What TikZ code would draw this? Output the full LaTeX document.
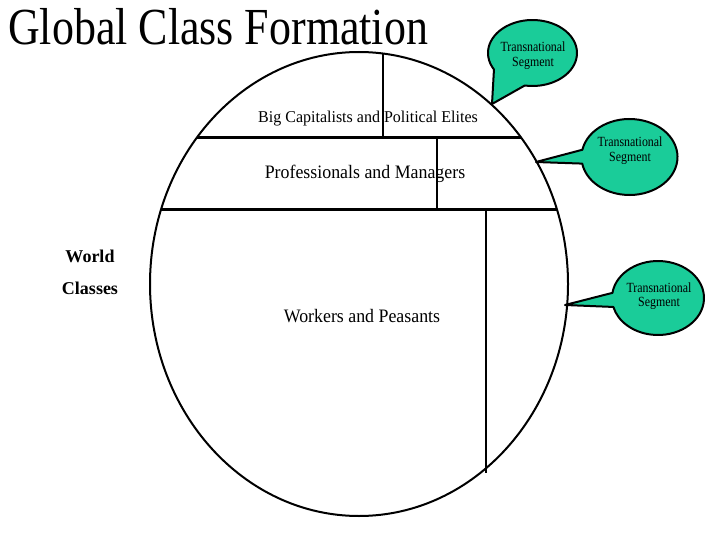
\documentclass[tikz,border=0pt]{standalone}
\usepackage{graphicx}
\usepackage{fontspec}
\setmainfont{Liberation Serif}
\definecolor{calloutgreen}{RGB}{26,204,153}
\newcommand\narrowtxt[2]{\scalebox{#1}[1]{#2}}
\begin{document}
\begin{tikzpicture}[x=1pt,y=-1pt,
  rim/.style={line width=2pt},
  band/.style={line width=3pt},
  divider/.style={line width=2pt},
  bubble/.style={fill=calloutgreen, draw=black, line width=2pt, line join=round},
  bubbletext/.style={font=\fontsize{14}{16}\selectfont, anchor=base, inner sep=0pt},
  lbl/.style={inner sep=0pt, anchor=base}]
\useasboundingbox (0,0) rectangle (720,540);
\fill[white] (0,0) rectangle (720,540);
% title
\node[anchor=base west, font=\fontsize{52}{56}\selectfont, inner sep=0pt] (title) at (8,45) {\narrowtxt{0.845}{Global Class Formation}};
% world circle
\coordinate (c) at (359,284);
\draw[rim] (c) ellipse [x radius=209, y radius=232];
% bands
\coordinate (b1l) at (196.6,138); \coordinate (b1r) at (521.4,138);
\coordinate (b2l) at (160.9,210); \coordinate (b2r) at (557.1,210);
\draw[band] (b1l) -- (b1r);
\draw[band] (b2l) -- (b2r);
% labels
\node[lbl, font=\fontsize{16.5}{18}\selectfont] (big) at (368,123) {\narrowtxt{0.97}{Big Capitalists and Political Elites}};
\node[lbl, font=\fontsize{19}{20}\selectfont] (prof) at (365,179) {\narrowtxt{0.94}{Professionals and Managers}};
\node[lbl, font=\fontsize{19}{20}\selectfont] (work) at (362,322) {\narrowtxt{0.94}{Workers and Peasants}};
\node[lbl, font=\bfseries\fontsize{18}{20}\selectfont] (world) at (90,262) {World};
\node[lbl, font=\bfseries\fontsize{18}{20}\selectfont] (classes) at (90,294) {Classes};
% dividers
\coordinate (v1t) at (383,53.5); \coordinate (v1b) at (383,138);
\coordinate (v2t) at (437,138); \coordinate (v2b) at (437,210);
\coordinate (v3t) at (486,210); \coordinate (v3b) at (486,473);
\draw[divider] (v1t) -- (v1b);
\draw[divider] (v2t) -- (v2b);
\draw[divider] (v3t) -- (v3b);
% callouts
\coordinate (k1) at (532.5,53);
\coordinate (t1) at (492,104);
\draw[bubble] (k1) ++(150:44.5 and 33) arc[start angle=150, end angle=460, x radius=44.5, y radius=33] -- (t1) -- cycle;
\node[bubbletext] (s1a) at (533,52) {\narrowtxt{0.85}{Transnational}};
\node[bubbletext] (s1b) at (533,66.5) {\narrowtxt{0.85}{Segment}};
\coordinate (k2) at (629.5,157);
\coordinate (t2) at (536,162);
\draw[bubble] (k2) ++(191:48 and 38) arc[start angle=191, end angle=530, x radius=48, y radius=38] -- (t2) -- cycle;
\node[bubbletext] (s2a) at (630,147) {\narrowtxt{0.85}{Transnational}};
\node[bubbletext] (s2b) at (630,161.5) {\narrowtxt{0.85}{Segment}};
\coordinate (k3) at (658,298);
\coordinate (t3) at (565,305);
\draw[bubble] (k3) ++(188:46 and 37) arc[start angle=188, end angle=526, x radius=46, y radius=37] -- (t3) -- cycle;
\node[bubbletext] (s3a) at (659,292) {\narrowtxt{0.85}{Transnational}};
\node[bubbletext] (s3b) at (659,306.5) {\narrowtxt{0.85}{Segment}};
\end{tikzpicture}
\end{document}
